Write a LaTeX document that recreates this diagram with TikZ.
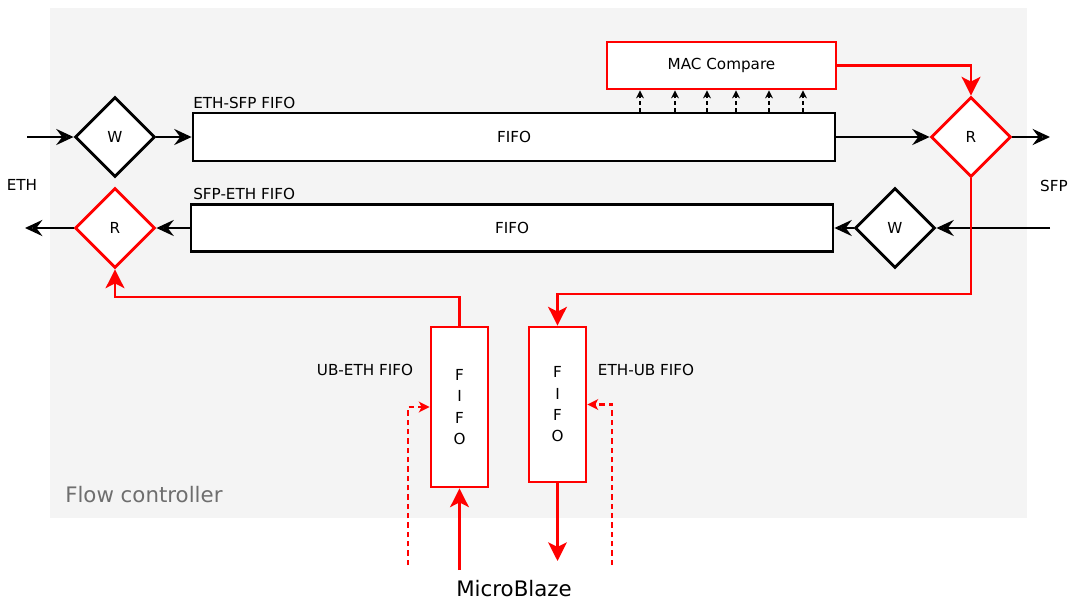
\documentclass[tikz,border=0pt]{standalone}
\usepackage{fontspec}
\setmainfont{DejaVu Sans}
\usetikzlibrary{shapes.geometric,arrows.meta}
\definecolor{bgc}{HTML}{F4F4F4}
\definecolor{lblgray}{HTML}{6E6E6E}
\definecolor{rd}{HTML}{FF0000}
\tikzset{
  txt/.style={font=\fontsize{11.4}{13}\selectfont, inner sep=0},
  blkbox/.style={draw=black, line width=2.1pt, fill=white, rectangle, inner sep=0, font=\fontsize{11.4}{13}\selectfont},
  redbox/.style={draw=rd, line width=2.1pt, fill=white, rectangle, inner sep=0, font=\fontsize{11.4}{13}\selectfont},
  dia/.style={diamond, aspect=1, minimum width=60pt, minimum height=60pt, inner sep=0, line width=2.1pt, fill=white, font=\fontsize{11.4}{13}\selectfont},
  blkarrow/.style={draw=black, line width=2.1pt, -{Stealth[length=13pt,width=12pt,inset=4.5pt,fill=gray!55]}},
  redarrow/.style={draw=rd, line width=2.1pt, -{Stealth[length=14pt,width=14pt,inset=3.5pt]}},
  dotarrow/.style={draw=black, line width=0.9pt, dash pattern=on 3pt off 2pt, -{Stealth[length=6pt,width=6pt]}},
  reddash/.style={draw=rd, line width=1.6pt, dash pattern=on 4pt off 3pt, -{Stealth[length=8pt,width=8pt,inset=2pt]}},
}
\begin{document}
\begin{tikzpicture}[x=0.75pt, y=-0.75pt]
\useasboundingbox (0,0) rectangle (1072,603);
\fill[bgc] (50,8) rectangle (1027,518);
\node[anchor=west, text=lblgray, font=\fontsize{16}{19}\selectfont, inner sep=0] (flow) at (65,495) {Flow controller};

% main nodes
\node[dia, draw=black] (w1) at (115,137) {W};
\node[dia, draw=rd] (r1) at (115,228) {R};
\node[blkbox, minimum width=481.5pt, minimum height=36pt] (f1) at (514,137) {FIFO};
\node[blkbox, minimum width=481.5pt, minimum height=35.25pt] (f2) at (512,228) {FIFO};
\node[redbox, minimum width=171.75pt, minimum height=35.25pt] (mac) at (721.5,65.5) {MAC Compare};
\node[dia, draw=rd] (r2) at (971,137) {R};
\node[dia, draw=black] (w2) at (895,228) {W};
\node[redbox, minimum width=42.75pt, minimum height=120pt, align=center, font=\fontsize{11.4}{16}\selectfont] (f3) at (459.5,407) {F\\I\\F\\O};
\node[redbox, minimum width=42.75pt, minimum height=116.25pt, align=center, font=\fontsize{11.4}{16}\selectfont] (f4) at (557.5,404.5) {F\\I\\F\\O};

% labels
\node[txt] (eth) at (22,185) {ETH};
\node[txt] (sfp) at (1054,186) {SFP};
\node[txt, anchor=west] (l1) at (193,103) {ETH-SFP FIFO};
\node[txt, anchor=west] (l2) at (193,194) {SFP-ETH FIFO};
\node[txt] (l3) at (365,370) {UB-ETH FIFO};
\node[txt] (l4) at (646,370) {ETH-UB FIFO};
\node[inner sep=0, font=\fontsize{16}{19}\selectfont] (mb) at (514,589) {MicroBlaze};

% free ends
\coordinate (ethin) at (27,137);
\coordinate (ethout) at (25,228);
\coordinate (sfpout) at (1050,137);
\coordinate (sfpin) at (1050,228);
\coordinate (j1) at (557.5,294);
\coordinate (j2) at (459.5,297);
\coordinate (mbin) at (459.5,570);
\coordinate (mbout) at (557.5,561);
\coordinate (d1) at (408,565);
\coordinate (d2) at (612,565);

% black data path
\draw[blkarrow] (ethin) -- (w1.west);
\draw[blkarrow] (w1.east) -- (f1.west);
\draw[blkarrow] (f1.east) -- (r2.west);
\draw[blkarrow] (r2.east) -- (sfpout);
\draw[blkarrow] (sfpin) -- (w2.east);
\draw[blkarrow] (w2.west) -- (f2.east);
\draw[blkarrow] (f2.west) -- (r1.east);
\draw[blkarrow] (r1.west) -- (ethout);

% MAC compare taps
\foreach \x in {640,675,707,736,769,803}
  \draw[dotarrow] (\x,0 |- f1.north) -- (\x,0 |- mac.south);

% red control paths
\draw[redarrow] (mac.east) -| (r2.north);
\draw[redarrow] (r2.south) |- (j1) -- (f4.north);
\draw[redarrow] (f3.north) -- (j2) -| (r1.south);
\draw[redarrow] (mbin) -- (f3.south);
\draw[redarrow] (f4.south) -- (mbout);
\draw[reddash] (d1) |- (f3.west);
\draw[reddash] (d2) |- (f4.east);
\end{tikzpicture}
\end{document}
